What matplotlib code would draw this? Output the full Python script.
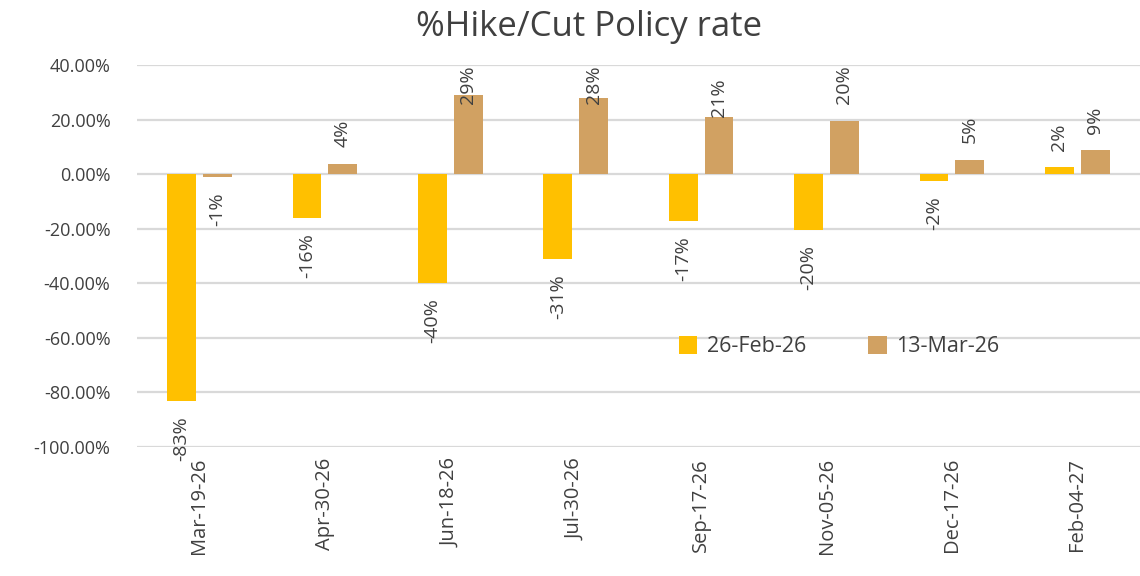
import matplotlib
matplotlib.use("Agg")
import matplotlib.pyplot as plt
import numpy as np
from matplotlib.ticker import FuncFormatter

# ---- data --------------------------------------------------------------------
dates = ["Mar-19-26", "Apr-30-26", "Jun-18-26", "Jul-30-26",
         "Sep-17-26", "Nov-05-26", "Dec-17-26", "Feb-04-27"]
feb26 = [-0.83, -0.161, -0.40, -0.31, -0.172, -0.203, -0.024, 0.025]
mar13 = [-0.012, 0.039, 0.289, 0.281, 0.208, 0.196, 0.052, 0.088]
series_names = ["26-Feb-26", "13-Mar-26"]

YELLOW = "#FFC000"
TAN = "#D1A162"
TEXT = "#404040"
GRID = "#D9D9D9"
LABEL_PT = 14

plt.rcParams["font.family"] = ["Open Sans", "DejaVu Sans"]

fig = plt.figure(figsize=(11.4, 5.76), dpi=100)
ax = fig.add_axes([0.12, 0.224, 0.88, 0.663])

x = np.arange(len(dates))
w = 0.23
gap = 0.055
b1 = ax.bar(x - (w + gap) / 2, feb26, w, color=YELLOW, label=series_names[0], zorder=3)
b2 = ax.bar(x + (w + gap) / 2, mar13, w, color=TAN, label=series_names[1], zorder=3)

ax.set_ylim(-1.0, 0.4)
ax.set_xlim(-0.5, len(dates) - 0.5)
ax.set_yticks(np.arange(-1.0, 0.41, 0.2))
ax.yaxis.set_major_formatter(FuncFormatter(lambda v, _: f"{round(v * 100, 2) + 0:.2f}%"))
ax.grid(axis="y", color=GRID, lw=1.6, zorder=0)
for s in ax.spines.values():
    s.set_visible(False)
ax.tick_params(axis="y", length=0, labelsize=13, colors=TEXT, pad=19)
ax.tick_params(axis="x", length=0, labelsize=14.5, colors=TEXT, pad=8)
ax.set_xticks(x)
ax.set_xticklabels(dates, rotation=90, va="top")

fig.suptitle("%Hike/Cut Policy rate", fontsize=25, color=TEXT, x=0.517, y=0.983)

# ---- value labels (rotated, kept inside the chart area like Excel) -----------
fig.canvas.draw()
r = fig.canvas.get_renderer()
ax_bb = ax.get_window_extent(r)
px2pt = 72 / fig.dpi
for bars, vals in [(b1, feb26), (b2, mar13)]:
    for rect, v in zip(bars, vals):
        cx = rect.get_x() + rect.get_width() / 2
        lab = f"{v * 100:.0f}%"
        if v >= 0:
            t = ax.annotate(lab, (cx, v), xytext=(0, 12), textcoords="offset points",
                            rotation=90, ha="center", va="bottom", fontsize=LABEL_PT,
                            color=TEXT, zorder=4)
            bb = t.get_window_extent(r)
            if bb.y1 > ax_bb.y1:
                t.set_position((0, 0))
                bb = t.get_window_extent(r)
                if bb.y1 > ax_bb.y1:
                    t.set_position((0, -(bb.y1 - ax_bb.y1) * px2pt))
        else:
            t = ax.annotate(lab, (cx, v), xytext=(0, -11), textcoords="offset points",
                            rotation=90, ha="center", va="top", fontsize=LABEL_PT,
                            color=TEXT, zorder=4, annotation_clip=False)
            bb = t.get_window_extent(r)
            floor = ax_bb.y0 - 16
            if bb.y0 < floor:
                t.set_position((0, -11 + (floor - bb.y0) * px2pt))

ax.legend(loc="center", bbox_to_anchor=(0.70, 0.262), ncol=2, frameon=False,
          fontsize=15.5, handlelength=0.85, handleheight=0.85, columnspacing=2.9,
          handletextpad=0.45, labelcolor=TEXT)

fig.savefig("out.png", dpi=100)
